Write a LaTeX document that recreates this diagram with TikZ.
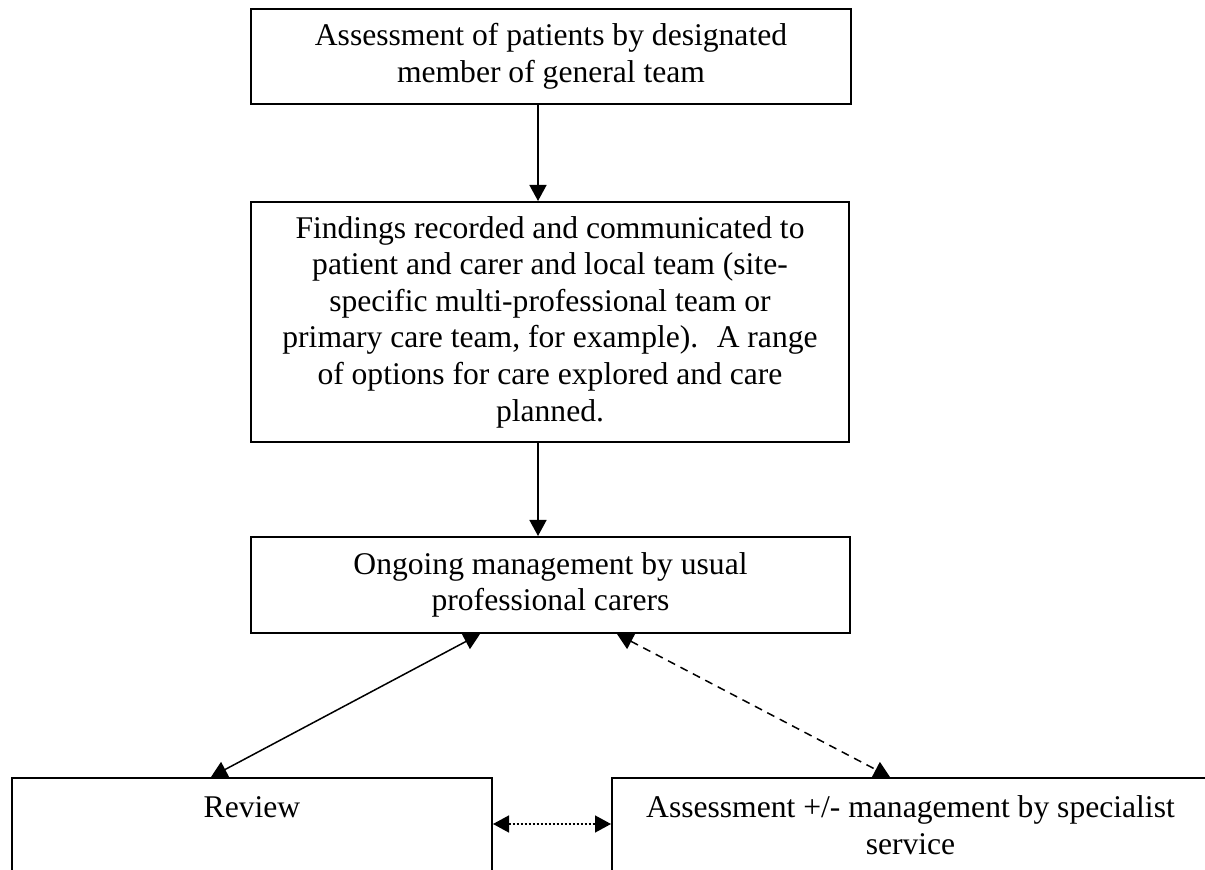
\documentclass[tikz,border=0pt]{standalone}
\usepackage{fontspec}
\setmainfont{Liberation Serif}
\usetikzlibrary{arrows.meta, positioning}

\tikzset{
    flowbox/.style={draw, line width=1pt, align=center, inner sep=0pt,
        font=\fontsize{15.8}{18.3}\selectfont},
    link/.style={line width=0.75pt},
}

\begin{document}
\begin{tikzpicture}[x=0.5pt, y=-0.5pt, >={Triangle[length=8pt, width=8.5pt]}]
    \clip (0,0) rectangle (1205,870);

    % main column
    \node[flowbox, minimum width=300pt, minimum height=47.5pt] (assess) at (551,56.5)
        {Assessment of patients by designated\\member of general team};
    \node[flowbox, minimum width=299pt, minimum height=120pt] (findings) at (550,322)
        {Findings recorded and communicated to\\patient and carer and local team (site-\\specific multi-professional team or\\primary care team, for example).~ A range\\of options for care explored and care\\planned.};
    \node[flowbox, minimum width=299.5pt, minimum height=48pt] (care) at (550.5,585)
        {Ongoing management by usual\\professional carers};

    % bottom row (cut off by the page)
    \node[flowbox, anchor=north west, minimum width=240pt, inner ysep=10pt,
        text height=10pt, text depth=80pt] (review) at (11,777) {Review};
    \node[flowbox, anchor=north west, minimum width=298.5pt, inner ysep=10pt,
        text height=28.3pt, text depth=60pt] (spec) at (611,777)
        {Assessment +/- management by specialist\\service};

    % links
    \draw[link, ->] ([xshift=144pt]assess.south west) -- ([xshift=144pt]findings.north west);
    \draw[link, ->] ([xshift=144pt]findings.south west) -- ([xshift=144pt]care.north west);
    \draw[link, <->] ([xshift=115pt]care.south west) -- ([xshift=100pt]review.north west);
    \draw[link, <->, dash pattern=on 4pt off 3pt] ([xshift=183.5pt]care.south west) -- ([xshift=139.5pt]spec.north west);
    \draw[link, <->, dash pattern=on 1pt off 1pt] ([yshift=-23.5pt]review.north east) -- ([yshift=-23.5pt]spec.north west);
\end{tikzpicture}
\end{document}
